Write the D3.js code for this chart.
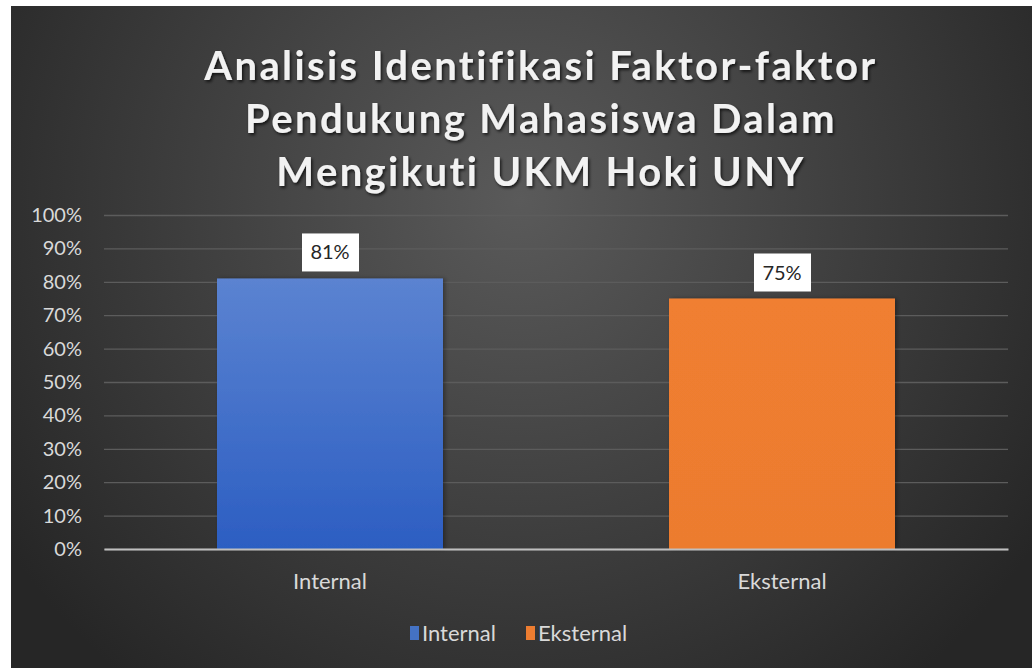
<!DOCTYPE html>
<html><head><meta charset="utf-8">
<script src="https://cdn.jsdelivr.net/npm/d3@7"></script>
<style>html,body{margin:0;padding:0;background:#fff;}svg{display:block;}</style>
</head><body>
<script>
const categories = ["Internal", "Eksternal"];
const values = [0.81, 0.75];
const labels = ["81%", "75%"];
const yTicks = [0, 0.1, 0.2, 0.3, 0.4, 0.5, 0.6, 0.7, 0.8, 0.9, 1.0];
const titleLines = ["Analisis Identifikasi Faktor-faktor", "Pendukung Mahasiswa Dalam", "Mengikuti UKM Hoki UNY"];
const colors = ["#4472c4", "#ed7d31"];

const W = 1032, H = 668;
const svg = d3.select("body").append("svg").attr("width", W).attr("height", H);
const defs = svg.append("defs");
const rg = defs.append("radialGradient").attr("id", "bg").attr("gradientUnits", "userSpaceOnUse")
  .attr("cx", 520).attr("cy", 200).attr("r", 620);
rg.append("stop").attr("offset", "0%").attr("stop-color", "#5a5a5a");
rg.append("stop").attr("offset", "100%").attr("stop-color", "#262626");
const bg1 = defs.append("linearGradient").attr("id", "blueG").attr("x1", 0).attr("y1", 0).attr("x2", 0).attr("y2", 1);
bg1.append("stop").attr("offset", "0%").attr("stop-color", "#5b83d1");
bg1.append("stop").attr("offset", "100%").attr("stop-color", "#2c5ec2");
const og = defs.append("linearGradient").attr("id", "orangeG").attr("x1", 0).attr("y1", 0).attr("x2", 0).attr("y2", 1);
og.append("stop").attr("offset", "0%").attr("stop-color", "#f07f30");
og.append("stop").attr("offset", "100%").attr("stop-color", "#ec7b2f");
const f = defs.append("filter").attr("id", "ts").attr("x", "-10%").attr("y", "-20%").attr("width", "120%").attr("height", "160%");
f.append("feDropShadow").attr("dx", 1.5).attr("dy", 2).attr("stdDeviation", 1.5).attr("flood-color", "#000").attr("flood-opacity", 0.7);
const bs = defs.append("filter").attr("id", "bs").attr("x", "-10%").attr("y", "-10%").attr("width", "130%").attr("height", "120%");
bs.append("feDropShadow").attr("dx", 2).attr("dy", 0).attr("stdDeviation", 2).attr("flood-color", "#000").attr("flood-opacity", 0.35);

svg.append("rect").attr("x", 11).attr("y", 6).attr("width", W - 11).attr("height", H - 6).attr("fill", "url(#bg)");

const font = "Lato, 'Open Sans', sans-serif";
svg.append("g").selectAll("text").data(titleLines).join("text")
  .attr("x", 541).attr("y", (d, i) => 80 + i * 53)
  .attr("text-anchor", "middle").attr("fill", "#f2f2f2")
  .attr("font-family", font).attr("font-weight", "bold").attr("font-size", 40)
  .attr("letter-spacing", 2.4).attr("filter", "url(#ts)").text(d => d);

const x0 = 104, x1 = 1008, yTop = 215, yBot = 549;
const y = d3.scaleLinear().domain([0, 1]).range([yBot, yTop]);
const x = d3.scaleBand().domain(categories).range([x0, x1]).paddingInner(0.5).paddingOuter(0.25);

const yAxis = svg.append("g").attr("transform", `translate(${x0},0)`)
  .call(d3.axisLeft(y).tickValues(yTicks).tickFormat(d3.format(".0%")).tickSize(-(x1 - x0)).tickPadding(22));
yAxis.select(".domain").remove();
yAxis.selectAll(".tick line").attr("stroke", "#5c5c5c").attr("stroke-width", 1.3);
yAxis.selectAll(".tick text").attr("fill", "#d9d9d9").attr("font-family", font).attr("font-size", 20);

svg.append("g").selectAll("rect").data(categories).join("rect")
  .attr("x", d => x(d)).attr("y", (d, i) => y(values[i]))
  .attr("width", x.bandwidth()).attr("height", (d, i) => yBot - y(values[i]))
  .attr("fill", (d, i) => i === 0 ? "url(#blueG)" : "url(#orangeG)")
  .attr("filter", "url(#bs)");

const xAxis = svg.append("g").attr("transform", `translate(0,${yBot})`)
  .call(d3.axisBottom(x).tickSize(0).tickPadding(24));
xAxis.select(".domain").attr("stroke", "#bfbfbf").attr("stroke-width", 2.2);
xAxis.selectAll(".tick text").attr("fill", "#d9d9d9").attr("font-family", font).attr("font-size", 22);

const lab = svg.append("g").selectAll("g").data(categories).join("g")
  .attr("transform", (d, i) => `translate(${x(d) + x.bandwidth() / 2},${y(values[i]) - 26})`);
lab.append("rect").attr("x", -28).attr("y", -19).attr("width", 57).attr("height", 38).attr("fill", "#fff");
lab.append("text").attr("text-anchor", "middle").attr("dy", "0.35em")
  .attr("font-family", font).attr("font-size", 20).attr("fill", "#262626")
  .text((d, i) => labels[i]);

const leg = svg.append("g").attr("transform", "translate(410,633)");
const legX = [0, 116];
const li = leg.selectAll("g").data(categories).join("g").attr("transform", (d, i) => `translate(${legX[i]},0)`);
li.append("rect").attr("x", 0).attr("y", -7).attr("width", 9).attr("height", 14).attr("fill", (d, i) => colors[i]);
li.append("text").attr("x", 12).attr("dy", "0.35em").attr("fill", "#d9d9d9")
  .attr("font-family", font).attr("font-size", 22).text(d => d);
</script>
</body></html>
